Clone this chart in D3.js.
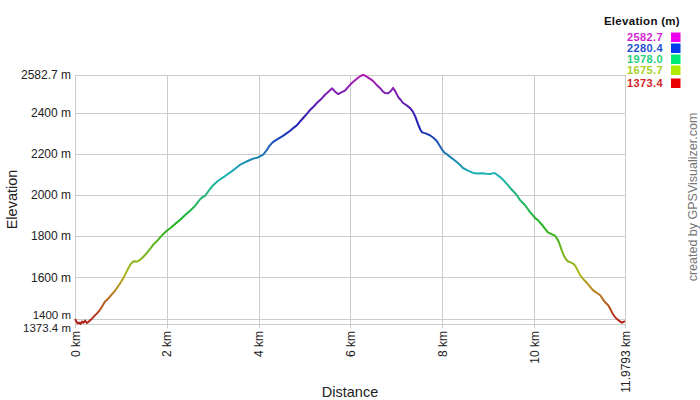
<!DOCTYPE html>
<html><head><meta charset="utf-8">
<script src="https://cdn.jsdelivr.net/npm/d3@7/dist/d3.min.js"></script>
<style>
html,body{margin:0;padding:0;background:#fff;}
svg{display:block;font-family:"Liberation Sans",Arial,sans-serif;}
</style></head>
<body>
<svg id="chart" width="700" height="400"></svg>
<script>
const distKm = [0.00,0.03,0.06,0.09,0.12,0.15,0.18,0.22,0.26,0.30,0.35,0.42,0.48,0.54,0.60,0.65,0.71,0.76,0.84,0.91,0.98,1.05,1.10,1.16,1.21,1.26,1.30,1.34,1.38,1.42,1.49,1.56,1.64,1.71,1.78,1.86,1.93,2.00,2.10,2.18,2.29,2.40,2.50,2.61,2.66,2.72,2.78,2.83,2.94,3.02,3.11,3.20,3.27,3.35,3.42,3.50,3.59,3.70,3.81,3.90,3.96,4.03,4.10,4.18,4.24,4.31,4.42,4.53,4.60,4.68,4.76,4.84,4.90,4.97,5.05,5.12,5.21,5.29,5.38,5.45,5.49,5.55,5.60,5.66,5.73,5.80,5.88,5.95,6.03,6.10,6.16,6.22,6.27,6.31,6.35,6.42,6.49,6.56,6.64,6.70,6.75,6.82,6.88,6.93,6.98,7.04,7.10,7.14,7.22,7.30,7.36,7.41,7.47,7.52,7.56,7.65,7.73,7.80,7.88,7.94,7.99,8.05,8.10,8.17,8.26,8.34,8.40,8.45,8.56,8.67,8.77,8.87,8.95,9.04,9.10,9.15,9.21,9.26,9.32,9.37,9.43,9.48,9.53,9.58,9.64,9.69,9.75,9.80,9.86,9.91,9.97,10.02,10.08,10.13,10.19,10.24,10.30,10.38,10.46,10.52,10.57,10.61,10.65,10.69,10.74,10.78,10.84,10.89,10.95,11.00,11.06,11.11,11.20,11.28,11.36,11.44,11.50,11.55,11.61,11.66,11.70,11.74,11.78,11.83,11.87,11.91,11.94,11.9793];
const elevM = [1398,1385,1376,1380,1373.4,1385,1379,1390,1378,1385,1395,1412,1425,1441,1462,1482,1494,1506,1527,1547,1570,1595,1617,1644,1663,1676,1678,1676,1680,1686,1700,1717,1740,1760,1775,1795,1812,1826,1843,1859,1880,1903,1922,1946,1960,1978,1990,1995,2029,2050,2068,2082,2092,2105,2116,2130,2146,2158,2170,2178,2180,2188,2196,2219,2240,2257,2272,2287,2298,2311,2326,2340,2356,2374,2394,2413,2432,2452,2470,2488,2495,2508,2518,2503,2490,2498,2507,2525,2544,2557,2568,2578,2582.7,2581,2575,2565,2554,2537,2520,2504,2495,2494,2505,2520,2502,2475,2460,2448,2436,2422,2405,2382,2345,2318,2304,2298,2290,2279,2262,2240,2222,2205,2198,2185,2170,2155,2143,2131,2118,2107,2104,2106,2103,2102,2105,2106,2095,2087,2075,2062,2048,2034,2022,2010,1994,1976,1962,1951,1933,1917,1902,1888,1878,1866,1850,1835,1818,1810,1801,1781,1752,1725,1705,1689,1677,1674,1668,1658,1633,1611,1595,1582,1560,1538,1525,1513,1492,1478,1466,1446,1428,1413,1403,1393,1386,1380,1383,1388];
const xTicks = [0,2,4,6,8,10,11.9793];
const yTicks = [1373.4,1400,1600,1800,2000,2200,2400,2582.7];
const legendValues = [2582.7,2280.4,1978.0,1675.7,1373.4];
const legendTitle = "Elevation (m)";

const svg = d3.select("#chart");
const L=75, R=625, T=75, B=324;
const eMin = 1373.4, eMax = 2582.7;
const x = d3.scaleLinear().domain([0,11.9793]).range([L,R]);
const y = d3.scaleLinear().domain([eMin,eMax]).range([B,T]);
const hue = d3.scaleLinear().domain([eMin,eMax]).range([0,300]);
const grid = "#cccccc";

// grid
svg.append("g").selectAll("line").data(yTicks).join("line")
  .attr("x1",L).attr("x2",R).attr("y1",d=>Math.round(y(d))+0.5).attr("y2",d=>Math.round(y(d))+0.5)
  .attr("stroke",grid).attr("stroke-width",1);
svg.append("g").selectAll("line").data(xTicks).join("line")
  .attr("x1",d=>Math.round(x(d))+0.5).attr("x2",d=>Math.round(x(d))+0.5)
  .attr("y1",T).attr("y2",B+4)
  .attr("stroke",grid).attr("stroke-width",1);

// y labels (the two lowest are nudged apart as in the original)
const yNudge = d => d===1400 ? -3.5 : (d===1373.4 ? 4 : 0);
const ySize = d => (d===1400 || d===1373.4) ? 11.5 : 12;
svg.append("g").selectAll("text").data(yTicks).join("text")
  .attr("x",L-4).attr("y",d=>y(d)+4.3+yNudge(d))
  .attr("text-anchor","end").attr("font-size",ySize).attr("fill","#222")
  .text(d=>(d%1===0?d:d.toFixed(1))+" m");

// x labels
svg.append("g").selectAll("text").data(xTicks).join("text")
  .attr("transform",d=>`translate(${x(d)+4.5},${B+7}) rotate(-90)`)
  .attr("text-anchor","end").attr("font-size",12).attr("fill","#222")
  .text(d=>d+" km");

// axis titles
svg.append("text").attr("x",(L+R)/2).attr("y",397).attr("text-anchor","middle")
  .attr("font-size",14.5).attr("fill","#222").text("Distance");
svg.append("text").attr("transform",`translate(17,${(T+B)/2}) rotate(-90)`)
  .attr("text-anchor","middle").attr("font-size",14.5).attr("fill","#222").text("Elevation");

// gradient by elevation
const defs = svg.append("defs");
const grad = defs.append("linearGradient").attr("id","eg")
  .attr("gradientUnits","userSpaceOnUse")
  .attr("x1",0).attr("x2",0).attr("y1",y(eMin)).attr("y2",y(eMax));
d3.range(0,1.0001,0.05).forEach(t=>{
  const h = 300*t;
  grad.append("stop").attr("offset",t).attr("stop-color",d3.hsl(h,0.72,0.41).formatHex());
});

const pts = distKm.map((d,i)=>[d,elevM[i]]);
svg.append("path").datum(pts)
  .attr("d",d3.line().x(d=>x(d[0])).y(d=>y(d[1])))
  .attr("fill","none").attr("stroke","url(#eg)").attr("stroke-width",2)
  .attr("stroke-linejoin","round");

// legend
svg.append("text").attr("x",680).attr("y",25).attr("text-anchor","end")
  .attr("font-size",11.5).attr("font-weight","bold").attr("letter-spacing",0.3)
  .attr("fill","#111").text(legendTitle);
const legY = [37,48,59,70,83];
const lg = svg.append("g");
legendValues.forEach((v,i)=>{
  const h = hue(v);
  lg.append("text").attr("x",663).attr("y",legY[i]+4).attr("text-anchor","end")
    .attr("font-size",11).attr("font-weight","bold").attr("letter-spacing",0.4)
    .attr("fill",d3.hsl(h,0.7,0.48).formatHex()).text(v.toFixed(1));
  lg.append("rect").attr("x",671).attr("y",legY[i]-4.5).attr("width",9.5).attr("height",9.5)
    .attr("fill",d3.hsl(h,1,0.46).formatHex());
});

// credit
svg.append("text").attr("transform","translate(697,197) rotate(-90)")
  .attr("text-anchor","middle").attr("font-size",12.5).attr("fill","#777")
  .text("created by GPSVisualizer.com");
</script>
</body></html>
